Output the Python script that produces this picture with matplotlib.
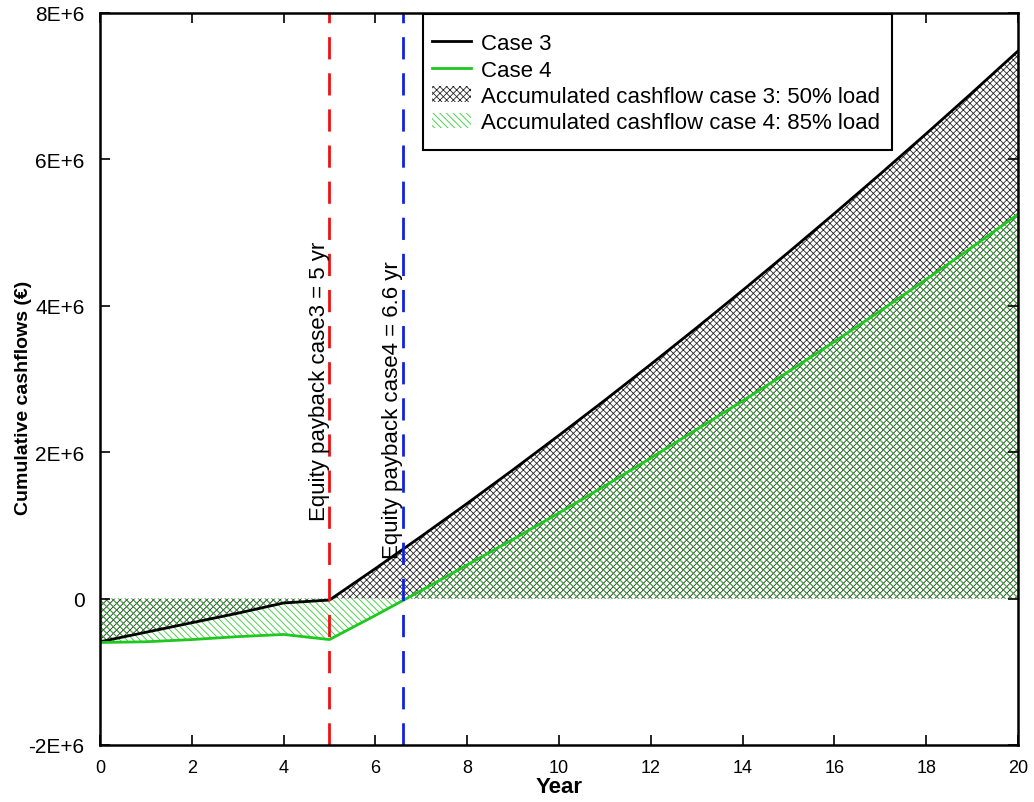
import matplotlib.pyplot as plt
from matplotlib.patches import Patch, Rectangle
from matplotlib.lines import Line2D
import numpy as np

plt.rcParams['font.family'] = ['Liberation Sans', 'DejaVu Sans']
plt.rcParams['hatch.linewidth'] = 0.6

years = list(range(0, 21))
case3 = [-0.59, -0.46, -0.33, -0.20, -0.06, -0.02, 0.41, 0.85, 1.30, 1.76,
         2.23, 2.71, 3.20, 3.70, 4.21, 4.73, 5.26, 5.80, 6.35, 6.91, 7.48]
case4 = [-0.60, -0.59, -0.56, -0.52, -0.49, -0.56, -0.23, 0.11, 0.46, 0.81,
         1.17, 1.54, 1.92, 2.31, 2.70, 3.10, 3.51, 3.93, 4.36, 4.80, 5.25]
payback3 = 5.0
payback4 = 6.6
yticks = [-2e6, 0, 2e6, 4e6, 6e6, 8e6]
ytick_labels = ["-2E+6", "0", "2E+6", "4E+6", "6E+6", "8E+6"]

x = np.array(years)
y3 = np.array(case3) * 1e6
y4 = np.array(case4) * 1e6

green = "#1fc81f"
hatch_green = "#33cc33"
hatch_black = "#2a2a2a"

fig = plt.figure(figsize=(10.34, 8.03), dpi=100)
ax = fig.add_axes([0.0967, 0.071, 0.8878, 0.9116])

ax.fill_between(x, 0, y3, facecolor="none", edgecolor=hatch_black,
                hatch="xxxxx", linewidth=0)
ax.fill_between(x, 0, y4, facecolor="none", edgecolor=hatch_green,
                hatch="\\\\\\\\\\", linewidth=0)
ax.plot(x, y3, color="black", lw=2)
ax.plot(x, y4, color=green, lw=2)

ax.axvline(payback3, color="#ee1111", lw=2, dashes=(8, 5))
ax.axvline(payback4, color="#1122dd", lw=2, dashes=(8, 5))

ax.text(4.78, 1.08e6, "Equity payback case3 = 5 yr", rotation=90,
        ha="center", va="bottom", fontsize=16)
ax.text(6.38, 0.55e6, "Equity payback case4 = 6.6 yr", rotation=90,
        ha="center", va="bottom", fontsize=16)

ax.set_xlim(0, 20)
ax.set_ylim(-2e6, 8e6)
ax.set_xticks(range(0, 21, 2))
ax.set_yticks(yticks)
ax.set_yticklabels(ytick_labels)
ax.tick_params(direction="in", top=True, right=True, length=7, width=1.2)
ax.tick_params(axis="x", pad=10, labelsize=13)
ax.tick_params(axis="y", pad=11, labelsize=15)
for s in ax.spines.values():
    s.set_linewidth(1.8)

ax.set_xlabel("Year", fontsize=16, fontweight="bold", labelpad=0)
ax.set_ylabel("Cumulative cashflows (€)", fontsize=14, fontweight="bold")
ax.yaxis.set_label_coords(-0.074, 0.475)

# legend box drawn separately so its padding matches the original
ax.add_patch(Rectangle((0.352, 0.8128), 0.5107, 0.1858, transform=ax.transAxes,
                       facecolor="white", edgecolor="black", lw=1.5, zorder=4))

handles = [
    Line2D([], [], color="black", lw=2),
    Line2D([], [], color=green, lw=2),
    Patch(facecolor="none", edgecolor=hatch_black, hatch="xxxxx", linewidth=0),
    Patch(facecolor="none", edgecolor=hatch_green, hatch="\\\\\\\\\\", linewidth=0),
]
labels = ["Case 3", "Case 4", "Accumulated cashflow case 3: 50% load",
          "Accumulated cashflow case 4: 85% load"]
leg = ax.legend(handles, labels, loc="center left", bbox_to_anchor=(0.3617, 0.904),
                borderaxespad=0, borderpad=0, fontsize=16, frameon=False,
                labelspacing=0.24, handlelength=1.77, handletextpad=0.45)
leg.set_zorder(5)

fig.savefig("out.png", dpi=100)
